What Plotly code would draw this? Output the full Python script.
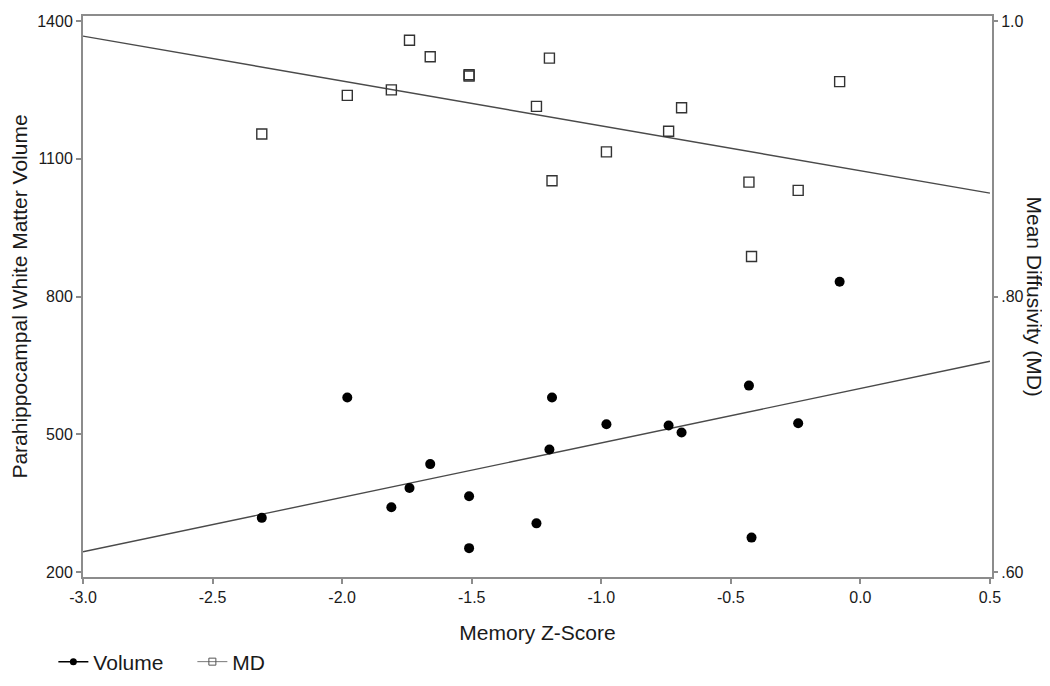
import plotly.graph_objects as go

# Data
memory_z = [-2.31, -1.98, -1.81, -1.74, -1.66, -1.51, -1.51, -1.25, -1.20, -1.19,
            -0.98, -0.74, -0.69, -0.43, -0.42, -0.24, -0.08]
volume = [318, 580, 341, 383, 435, 365, 252, 306, 467, 580,
          522, 519, 504, 606, 275, 524, 832]
md = [0.918, 0.946, 0.950, 0.986, 0.974, 0.960, 0.961, 0.938, 0.973, 0.884,
      0.905, 0.920, 0.937, 0.883, 0.829, 0.877, 0.956]

# Fit lines (endpoints)
fit_x = [-3.0, 0.5]
volume_fit = [244, 659]
md_fit = [0.989, 0.875]

left_ticks = [200, 500, 800, 1100, 1400]
right_ticks = [0.60, 0.80, 1.0]
right_ticktext = [".60", ".80", "1.0"]
x_ticks = [-3.0, -2.5, -2.0, -1.5, -1.0, -0.5, 0.0, 0.5]

FONT = "Liberation Sans, Arial, sans-serif"
AXC = "#8c8c8c"
TXT = "#1a1a1a"

fig = go.Figure()

fig.add_trace(go.Scatter(x=fit_x, y=volume_fit, mode="lines",
                         line=dict(color="#4a4a4a", width=1.4),
                         showlegend=False, hoverinfo="skip"))
fig.add_trace(go.Scatter(x=fit_x, y=md_fit, mode="lines", yaxis="y2",
                         line=dict(color="#4a4a4a", width=1.4),
                         showlegend=False, hoverinfo="skip"))

fig.add_trace(go.Scatter(x=memory_z, y=volume, mode="markers", name="Volume",
                         marker=dict(symbol="circle", size=10, color="black"),
                         showlegend=False))
fig.add_trace(go.Scatter(x=memory_z, y=md, mode="markers", name="MD", yaxis="y2",
                         marker=dict(symbol="square-open", size=10, color="#333333",
                                     line=dict(width=1.4)),
                         showlegend=False))

# legend entries
fig.add_trace(go.Scatter(x=[None], y=[None], mode="lines+markers", name="Volume",
                         marker=dict(symbol="circle", size=7, color="black"),
                         line=dict(color="black", width=1.5)))
fig.add_trace(go.Scatter(x=[None], y=[None], mode="lines+markers", name="MD",
                         marker=dict(symbol="square-open", size=7, color="#555555"),
                         line=dict(color="#777777", width=1)))

fig.update_layout(
    width=1042, height=678,
    margin=dict(l=75, r=58, t=8, b=109, autoexpand=False),
    paper_bgcolor="white", plot_bgcolor="white",
    font=dict(family=FONT, color=TXT, size=16),
    xaxis=dict(range=[-3.0, 0.508], tickvals=x_ticks,
               ticktext=[f"{v:.1f}" for v in x_ticks],
               showline=True, linecolor=AXC, linewidth=2, mirror=True,
               ticks="outside", ticklen=5, tickcolor=AXC, tickwidth=1.5,
               showgrid=False, zeroline=False, automargin=False,
               tickfont=dict(size=16),
               title=dict(text="Memory Z-Score", font=dict(size=21), standoff=20)),
    yaxis=dict(range=[189.2, 1410.8], tickvals=left_ticks,
               showline=True, linecolor=AXC, linewidth=2,
               ticks="outside", ticklen=5, tickcolor=AXC, tickwidth=1.5,
               showgrid=False, zeroline=False, automargin=False,
               tickfont=dict(size=16),
               title=dict(text="Parahippocampal White Matter Volume",
                          font=dict(size=21), standoff=7)),
    yaxis2=dict(overlaying="y", side="right",
                range=[0.6 + (189.2 - 200) / 3000, 0.6 + (1410.8 - 200) / 3000],
                tickvals=right_ticks, ticktext=right_ticktext,
                showline=True, linecolor=AXC, linewidth=2,
                ticks="outside", ticklen=4, tickcolor=AXC, tickwidth=1.5,
                showgrid=False, zeroline=False, automargin=False,
                tickfont=dict(size=16)),
    legend=dict(orientation="h", x=-0.0326, y=-0.1515, xanchor="left", yanchor="middle",
                font=dict(size=21), itemwidth=30, tracegroupgap=0,
                entrywidth=94, entrywidthmode="pixels",
                bgcolor="rgba(0,0,0,0)"),
    annotations=[dict(text="Mean Diffusivity (MD)", textangle=90,
                      xref="paper", yref="paper", x=1.0 + (1026 - 984) / 909, y=0.5,
                      xanchor="center", yanchor="middle", showarrow=False,
                      font=dict(size=21, family=FONT, color=TXT))],
)

fig.write_html("out.html")
